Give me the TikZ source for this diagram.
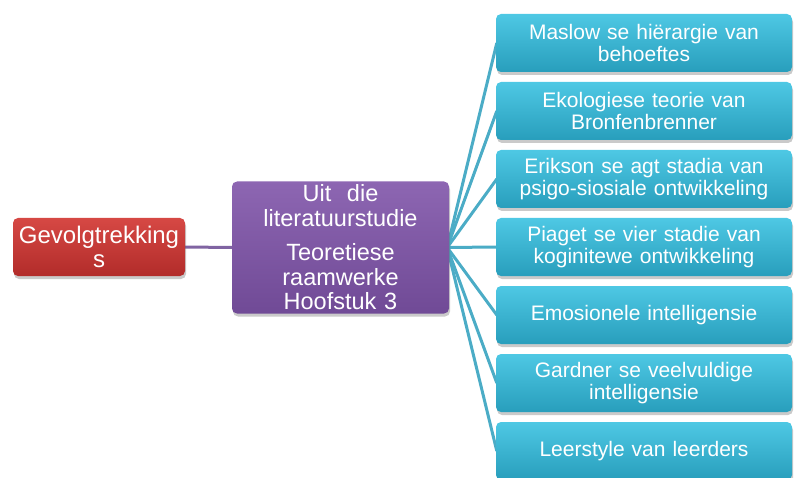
\documentclass[tikz,border=0pt]{standalone}
\usepackage{fontspec}
\setmainfont{Liberation Sans}
\usetikzlibrary{shadows,backgrounds}
\definecolor{redtop}{RGB}{214,72,68}
\definecolor{redbot}{RGB}{178,44,42}
\definecolor{purtop}{RGB}{141,102,178}
\definecolor{purbot}{RGB}{112,74,150}
\definecolor{bluetop}{RGB}{78,200,228}
\definecolor{bluebot}{RGB}{40,158,188}
\definecolor{bluelink}{RGB}{75,172,198}
\definecolor{purlink}{RGB}{128,100,162}
\tikzset{
  boxbase/.style={rounded corners=5pt, text=white, align=center, inner sep=0pt,
    drop shadow={shadow xshift=1pt, shadow yshift=-3pt, opacity=0.35, fill=black!60}},
  rootbox/.style={boxbase, top color=redtop, bottom color=redbot,
    minimum width=172pt, minimum height=58pt, text width=168pt,
    font=\fontsize{24}{24}\selectfont},
  hubbox/.style={boxbase, top color=purtop, bottom color=purbot,
    minimum width=217pt, minimum height=132pt, text width=212pt,
    font=\fontsize{23.5}{24.5}\selectfont},
  leafbox/.style={boxbase, top color=bluetop, bottom color=bluebot,
    minimum width=296pt, minimum height=58pt, text width=292pt,
    font=\fontsize{21}{22.5}\selectfont},
  leaflink/.style={draw=bluelink, line width=3pt},
  rootlink/.style={draw=purlink, line width=3pt}
}
\begin{document}
\begin{tikzpicture}[x=1pt,y=-1pt]
\useasboundingbox (0,0) rectangle (794,478);
\clip (0,0) rectangle (794,478);

\node[rootbox] (root) at (99,247) {Gevolgtrekking\\s};
\node[hubbox] (hub) at (340.5,247.5)
  {Uit\ \ die\\literatuurstudie\\[10pt]Teoretiese\\raamwerke\\Hoofstuk 3};

\node[leafbox] (l1) at (644,43)  {Maslow se hiërargie van\\behoeftes};
\node[leafbox] (l2) at (644,111) {Ekologiese teorie van\\Bronfenbrenner};
\node[leafbox] (l3) at (644,179) {Erikson se agt stadia van\\psigo-siosiale ontwikkeling};
\node[leafbox] (l4) at (644,247) {Piaget se vier stadie van\\koginitewe ontwikkeling};
\node[leafbox] (l5) at (644,315) {Emosionele intelligensie};
\node[leafbox] (l6) at (644,383) {Gardner se veelvuldige\\intelligensie};
\node[leafbox] (l7) at (644,451) {Leerstyle van leerders};

\begin{scope}[on background layer]
  \draw[rootlink] (root.east) -- (hub.west);
  \foreach \n in {l1,l2,l3,l4,l5,l6,l7}
    \draw[leaflink] ([xshift=-2pt]hub.east) -- ([xshift=1pt]\n.west);
\end{scope}
\end{tikzpicture}
\end{document}
